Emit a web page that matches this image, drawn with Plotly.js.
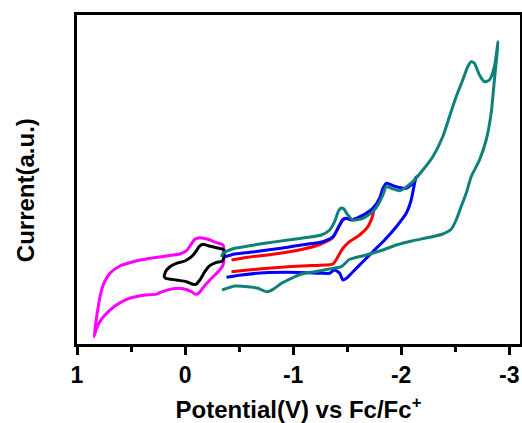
<!DOCTYPE html>
<html>
<head>
<meta charset="utf-8">
<script src="https://cdn.plot.ly/plotly-3.0.1.min.js"></script>
<style>html,body{margin:0;padding:0;background:#fff;}#chart{width:522px;height:423px;}</style>
</head>
<body>
<div id="chart"></div>
<script>
// Potential (V vs Fc/Fc+) and current (a.u.)
const magentaX = [-0.352,-0.291,-0.214,-0.137,-0.091,-0.051,-0.014,0.048,0.171,0.325,0.479,0.603,0.695,0.757,0.787,0.818,0.843,
  0.824,0.794,0.741,0.649,0.541,0.387,0.264,0.202,0.110,0.017,-0.060,-0.097,-0.131,-0.174,-0.245,-0.306,-0.352,-0.352];
const magentaY = [9.9,10.13,10.47,10.63,10.47,9.9,9.33,9.0,8.8,8.57,8.23,7.8,7.07,5.9,4.73,2.73,0.73,
  1.4,2.13,2.9,3.8,4.47,4.87,4.99,5.27,5.53,5.53,5.23,4.97,5.13,5.73,6.57,7.23,7.9,9.9];

const blackX = [-0.359,-0.291,-0.213,-0.167,-0.130,-0.100,-0.060,0.002,0.079,0.140,0.177,0.193,0.177,0.079,-0.014,-0.075,-0.100,-0.137,-0.183,-0.229,-0.291,-0.347,-0.359];
const blackY = [9.4,9.63,9.83,9.97,9.73,9.23,8.73,8.3,8.07,7.73,7.3,6.73,6.57,6.4,6.23,5.97,5.97,6.4,7.23,7.83,8.17,8.3,9.4];

const redX = [-0.430,-0.583,-0.830,-1.077,-1.246,-1.369,-1.415,-1.461,-1.507,-1.554,-1.616,-1.708,-1.745,
  -1.733,-1.692,-1.616,-1.523,-1.461,-1.415,-1.369,-1.292,-1.077,-0.830,-0.583,-0.430];
const redY = [8.4,8.67,9.0,9.45,9.95,10.65,11.57,12.4,12.57,12.4,12.57,13.07,13.23,
  12.73,11.73,10.9,10.23,9.57,8.73,8.0,7.9,7.8,7.63,7.4,7.23];

const blueX = [-0.368,-0.460,-0.645,-0.892,-1.138,-1.276,-1.369,-1.415,-1.461,-1.493,-1.539,-1.585,-1.677,-1.738,-1.800,-1.831,-1.862,-1.909,-1.970,-2.047,-2.108,-2.140,
  -2.124,-2.093,-2.047,-1.955,-1.847,-1.738,-1.646,-1.554,-1.493,-1.461,-1.431,-1.384,-1.338,-1.262,-1.138,-0.953,-0.738,-0.522,-0.384];
const blueY = [8.73,9.0,9.23,9.57,10.0,10.23,10.73,11.57,12.47,12.57,12.4,12.57,13.07,13.57,14.57,15.57,16.07,15.9,15.67,15.57,16.07,16.73,
  16.07,14.4,13.07,11.73,10.4,9.23,8.23,7.23,6.57,6.4,7.07,7.4,7.07,7.07,7.13,7.17,7.13,6.9,6.67];

const tealX = [-0.343,-0.460,-0.583,-0.676,-0.753,-0.814,-0.892,-0.984,-1.077,-1.200,-1.323,-1.446,-1.523,-1.677,-1.831,-1.955,-2.108,-2.262,-2.385,-2.463,-2.509,-2.555,-2.602,-2.648,-2.725,-2.787,-2.833,-2.863,-2.885,-2.897,
  -2.863,-2.817,-2.771,-2.725,-2.678,-2.648,-2.616,-2.570,-2.509,-2.447,-2.385,-2.293,-2.201,-2.108,-2.031,-1.985,-1.909,-1.862,-1.831,-1.785,-1.738,-1.646,-1.554,-1.500,-1.470,-1.446,-1.420,-1.384,-1.338,-1.262,-1.138,-0.953,-0.738,-0.583,-0.460,-0.398,-0.352,-0.337];
const tealY = [5.4,5.8,5.73,5.57,5.23,5.47,6.07,6.57,7.0,7.23,7.47,7.73,8.47,8.9,9.4,9.9,10.33,10.67,11.0,11.47,12.4,13.73,15.07,16.73,18.4,20.4,23.07,26.4,28.73,30.23,
  27.73,26.4,26.23,26.9,28.07,28.23,27.73,26.4,24.73,22.73,20.73,18.73,17.4,16.23,15.57,15.33,15.57,15.73,14.9,13.9,13.23,12.57,12.4,13.0,13.5,13.6,13.3,12.23,11.4,10.9,10.67,10.4,10.07,9.8,9.57,9.33,9.07,8.7];

const xTickVals = [1, 0, -1, -2, -3];
const xTickText = ["1", "0", "-1", "-2", "-3"];
const xMinorVals = [0.5, -0.5, -1.5, -2.5];

const FONT = '"Liberation Sans", Arial, sans-serif';

function tr(x, y, color) {
  return {x: x, y: y, type: 'scatter', mode: 'lines', line: {color: color, width: 3, shape: 'spline', smoothing: 0.6}, hoverinfo: 'skip'};
}

const data = [
  tr(magentaX, magentaY, '#ff00ff'),
  tr(blackX, blackY, '#000000'),
  tr(redX, redY, '#ff0000'),
  tr(blueX, blueY, '#0000ff'),
  tr(tealX, tealY, '#12807a')
];

const layout = {
  width: 522, height: 423,
  margin: {l: 77, r: 2, t: 15, b: 79},
  paper_bgcolor: '#ffffff', plot_bgcolor: '#ffffff',
  showlegend: false,
  font: {family: FONT, color: '#000'},
  xaxis: {
    range: [1, -3.1], autorange: false,
    showgrid: false, zeroline: false,
    showline: true, linecolor: '#000', linewidth: 3, mirror: true,
    ticks: 'outside', ticklen: 8, tickwidth: 3, tickcolor: '#000',
    tickmode: 'array', tickvals: xTickVals, ticktext: xTickText.map(t => '<b>' + t + '</b>'),
    ticklabelstandoff: 0,
    tickfont: {family: FONT, size: 23, weight: 'bold', color: '#000'},
    minor: {tickmode: 'array', tickvals: xMinorVals, ticks: 'outside', ticklen: 5, tickwidth: 3, tickcolor: '#000', showgrid: false},
    title: {text: '<b>Potential(V) vs Fc/Fc<sup>+</sup></b>', font: {family: FONT, size: 24, weight: 'bold', color: '#000'}, standoff: 18}
  },
  yaxis: {
    range: [0, 32.9], autorange: false,
    showgrid: false, zeroline: false,
    showline: true, linecolor: '#000', linewidth: 3, mirror: true,
    ticks: '', showticklabels: false
  },
  annotations: [{
    text: '<b>Current(a.u.)</b>', textangle: -90,
    xref: 'paper', yref: 'paper', x: -0.117, y: 0.468,
    xanchor: 'center', yanchor: 'middle', showarrow: false,
    font: {family: FONT, size: 24, weight: 'bold', color: '#000'}
  }]
};

Plotly.newPlot('chart', data, layout, {displayModeBar: false, staticPlot: true});
</script>
</body>
</html>
